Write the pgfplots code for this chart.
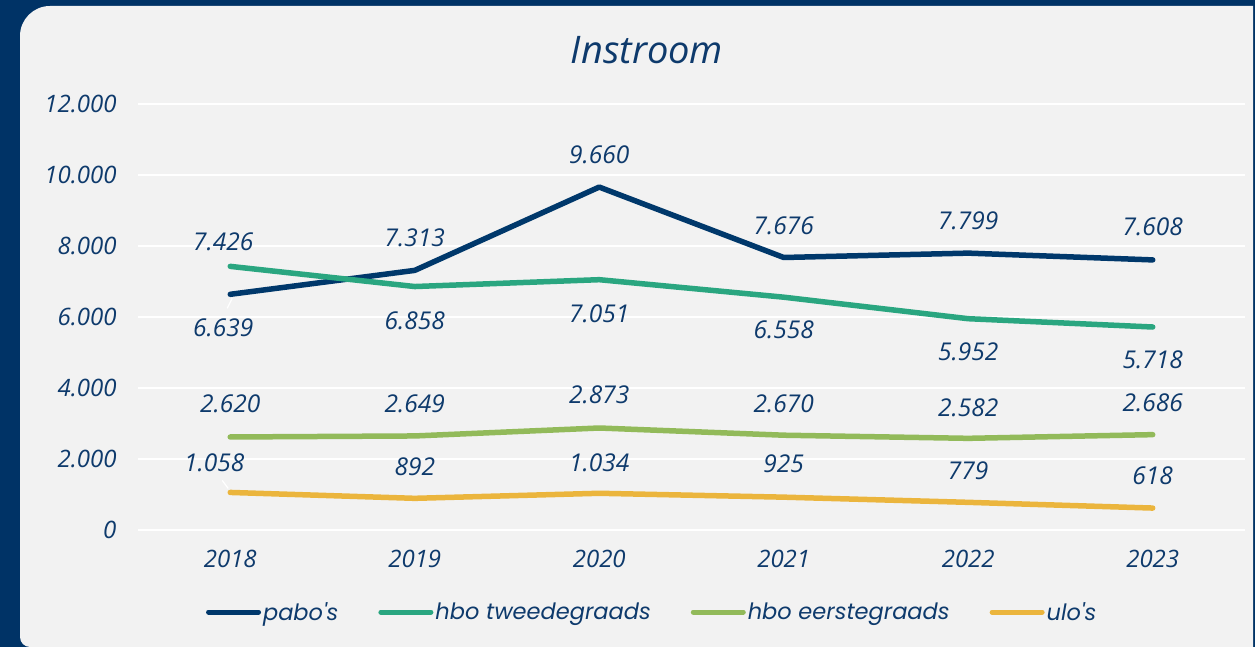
\documentclass[border=0pt]{standalone}
\usepackage{fontspec}
\setmainfont{Open Sans}
\newfontfamily\legfont{Poppins}
\newfontfamily\titlefont{Open Sans}
\usepackage{pgfplots}
\pgfplotsset{compat=1.18}
\definecolor{bgnavy}{RGB}{0,51,102}
\definecolor{panel}{RGB}{242,242,242}
\definecolor{txt}{RGB}{14,58,108}
\definecolor{cpabo}{RGB}{0,56,107}
\definecolor{ctwee}{RGB}{42,166,128}
\definecolor{ceerst}{RGB}{146,186,90}
\definecolor{culo}{RGB}{235,181,61}
\begin{document}
\begin{tikzpicture}
\useasboundingbox (0pt,0pt) rectangle (1255pt,647pt);
\fill[bgnavy] (0pt,0pt) rectangle (1255pt,647pt);
\fill[panel] (30pt,0pt) -- (1253pt,0pt) -- (1253pt,641pt) -- (50pt,641pt)
  arc[start angle=90,end angle=180,radius=30pt] -- (20pt,10pt)
  arc[start angle=180,end angle=270,radius=10pt] -- cycle;
\node[text=txt, font=\fontsize{38}{43}\selectfont\titlefont\itshape] at (647pt,597pt) {Instroom};
\begin{axis}[
  at={(138pt,117pt)}, anchor=south west,
  scale only axis, width=1107pt, height=426pt,
  xmin=-0.5, xmax=5.5, ymin=0, ymax=12000,
  xtick={0,1,2,3,4,5},
  xticklabels={2018,2019,2020,2021,2022,2023},
  ytick={0,2000,4000,6000,8000,10000,12000},
  scaled y ticks=false,
  ymajorgrids,
  major grid style={white, line width=2pt},
  axis line style={draw=none},
  major tick length=0pt,
  clip=false,
  /pgf/number format/.cd, 1000 sep={.}, fixed, precision=0, assume math mode=true,
  /pgfplots/.cd,
  tick label style={text=txt, font=\fontsize{24}{28}\selectfont\itshape},
  xticklabel style={anchor=north, yshift=-17pt},
  yticklabel style={anchor=east, xshift=-18pt},
  every node near coord/.append style={text=txt, font=\fontsize{24.5}{28}\selectfont\itshape},
  legend style={at={(0.4645,-0.1925)}, anchor=center, draw=none, fill=none,
    legend columns=4, text=txt, font=\fontsize{22.5}{26}\selectfont\legfont\itshape,
    /tikz/every even column/.append style={column sep=38pt}},
  legend image code/.code={\draw[#1, line width=5pt, line cap=round] (0pt,0pt) -- (50pt,0pt);},
]
\addplot[cpabo, line width=5.5pt, line cap=round, line join=round,
  nodes near coords,
  visualization depends on={value \thisrow{dy}\as\dy},
  visualization depends on={value \thisrow{dx}\as\dx},
  every node near coord/.append style={anchor=center, yshift=\dy pt, xshift=\dx pt}]
  table[x=x,y=y] {
x y dy dx
0 6639 -33 -7
1 7313 33 0
2 9660 32 0
3 7676 32 0
4 7799 32 0
5 7608 33 0
};
\addlegendentry{pabo's}
\addplot[ctwee, line width=5.5pt, line cap=round, line join=round,
  nodes near coords,
  visualization depends on={value \thisrow{dy}\as\dy},
  visualization depends on={value \thisrow{dx}\as\dx},
  every node near coord/.append style={anchor=center, yshift=\dy pt, xshift=\dx pt}]
  table[x=x,y=y] {
x y dy dx
0 7426 25 -7
1 6858 -34 0
2 7051 -34 0
3 6558 -33 0
4 5952 -33 0
5 5718 -33 0
};
\addlegendentry{hbo tweedegraads}
\addplot[ceerst, line width=5.5pt, line cap=round, line join=round,
  nodes near coords,
  visualization depends on={value \thisrow{dy}\as\dy},
  visualization depends on={value \thisrow{dx}\as\dx},
  every node near coord/.append style={anchor=center, yshift=\dy pt, xshift=\dx pt}]
  table[x=x,y=y] {
x y dy dx
0 2620 33 0
1 2649 32 0
2 2873 33 0
3 2670 31 0
4 2582 31 0
5 2686 32 0
};
\addlegendentry{hbo eerstegraads}
\addplot[culo, line width=5.5pt, line cap=round, line join=round,
  nodes near coords,
  visualization depends on={value \thisrow{dy}\as\dy},
  visualization depends on={value \thisrow{dx}\as\dx},
  every node near coord/.append style={anchor=center, yshift=\dy pt, xshift=\dx pt}]
  table[x=x,y=y] {
x y dy dx
0 1058 30 -16
1 892 32 0
2 1034 31 0
3 925 33 0
4 779 32 0
5 618 32 0
};
\addlegendentry{ulo's}
\draw[white, line width=1.2pt] (axis cs:0,6639) ++(2pt,-4pt) -- ++(-5pt,-10pt);
\draw[white, line width=1.2pt] (axis cs:0,1058) ++(-2pt,4pt) -- ++(-6pt,8pt);
\end{axis}
\end{tikzpicture}
\end{document}
